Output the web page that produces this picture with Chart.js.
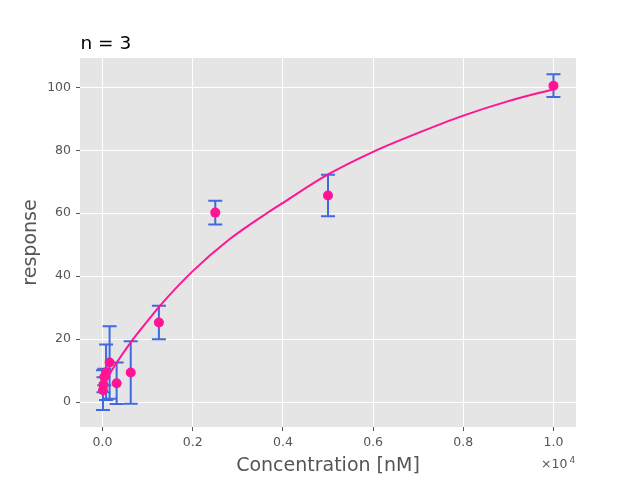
<!DOCTYPE html>
<html>
<head>
<meta charset="utf-8">
<script src="https://cdn.jsdelivr.net/npm/chart.js@4"></script>
<style>
  body { margin: 0; background: #ffffff; }
  #wrap { width: 640px; height: 480px; }
</style>
</head>
<body>
<div id="wrap"><canvas id="myChart" width="640" height="480"></canvas></div>
<script>
// datos
const conc = [10000, 5000, 2500, 1250, 625, 312.5, 156.25, 78.125, 39.0625, 19.53125, 9.765625];
const resp = [100.5, 65.6, 60.2, 25.3, 9.4, 6.0, 12.6, 9.5, 8.0, 5.5, 3.8];
const err  = [3.6, 6.6, 3.8, 5.3, 9.9, 6.6, 11.5, 8.8, 2.6, 2.4, 6.3];

// curva ajustada (puntos leidos sobre la linea)
const fitX = [9.8, 312, 625, 1044, 1267, 2000, 2822, 3674, 4000, 5000, 6000, 7000, 8000, 9000, 10000];
const fitY = [5.5, 12.5, 19.0, 26.6, 30.5, 41.6, 51.8, 60.3, 63.3, 72.3, 79.5, 85.5, 91.0, 95.6, 99.4];

const xTicks = [0, 2000, 4000, 6000, 8000, 10000];
const xTickLabels = ['0.0', '0.2', '0.4', '0.6', '0.8', '1.0'];
const yTicks = [0, 20, 40, 60, 80, 100];

const fuente = 'DejaVu Sans';
const gris = '#555555';

const fondo = {
    id: 'fondo',
    beforeDraw(chart) {
        const a = chart.chartArea;
        const c = chart.ctx;
        c.save();
        c.fillStyle = '#E5E5E5';
        c.fillRect(a.left, a.top, a.right - a.left, a.bottom - a.top);
        c.restore();
    }
};

const barrasError = {
    id: 'barrasError',
    beforeDatasetsDraw(chart) {
        const c = chart.ctx;
        const xs = chart.scales.x, ys = chart.scales.y;
        c.save();
        c.strokeStyle = '#4169E1';
        c.lineWidth = 2;
        for (let i = 0; i < conc.length; i++) {
            const px = xs.getPixelForValue(conc[i]);
            const y1 = ys.getPixelForValue(resp[i] + err[i]);
            const y2 = ys.getPixelForValue(resp[i] - err[i]);
            c.beginPath();
            c.moveTo(px, y1); c.lineTo(px, y2);
            c.moveTo(px - 7, y1); c.lineTo(px + 7, y1);
            c.moveTo(px - 7, y2); c.lineTo(px + 7, y2);
            c.stroke();
        }
        c.restore();
    }
};

const textos = {
    id: 'textos',
    afterDraw(chart) {
        const c = chart.ctx;
        c.save();
        c.fillStyle = '#000000';
        c.font = '18.5px "' + fuente + '"';
        c.textBaseline = 'alphabetic';
        c.textAlign = 'left';
        c.fillText('n = 3', 80.5, 48.5);
        c.fillStyle = gris;
        c.font = '12.5px "' + fuente + '"';
        c.fillText('\u00d710', 541, 468);
        c.font = '9px "' + fuente + '"';
        c.fillText('4', 569.5, 462.5);
        c.restore();
    }
};

const ctx = document.getElementById('myChart');

new Chart(ctx, {
    type: 'scatter',
    data: {
        datasets: [{
            type: 'line',
            label: 'ajuste',
            data: fitX.map((x, i) => ({ x: x, y: fitY[i] })),
            borderColor: '#FF1493',
            borderWidth: 2,
            pointRadius: 0,
            cubicInterpolationMode: 'monotone',
            fill: false,
            order: 2
        }, {
            label: 'datos',
            data: conc.map((x, i) => ({ x: x, y: resp[i] })),
            backgroundColor: '#FF1493',
            borderColor: '#FF1493',
            borderWidth: 0,
            pointRadius: 5,
            order: 1
        }]
    },
    options: {
        responsive: false,
        animation: false,
        layout: { padding: { top: 58, right: 64, left: 0, bottom: 0 } },
        plugins: {
            legend: { display: false },
            tooltip: { enabled: false }
        },
        scales: {
            x: {
                type: 'linear',
                min: -500,
                max: 10500,
                afterBuildTicks: s => { s.ticks = xTicks.map(v => ({ value: v })); },
                afterFit: s => { s.height = 53; },
                border: { display: false },
                grid: { color: '#ffffff', lineWidth: 1, tickColor: gris, tickLength: 4 },
                ticks: {
                    color: gris,
                    font: { family: fuente, size: 12.5 },
                    padding: 4,
                    maxRotation: 0,
                    callback: v => xTickLabels[xTicks.indexOf(v)]
                },
                title: {
                    display: true,
                    text: 'Concentration [nM]',
                    color: gris,
                    font: { family: fuente, size: 19 },
                    padding: { top: 0, bottom: 3 }
                }
            },
            y: {
                min: -7.9,
                max: 109.3,
                afterBuildTicks: s => { s.ticks = yTicks.map(v => ({ value: v })); },
                afterFit: s => { s.width = 80; },
                border: { display: false },
                grid: { color: '#ffffff', lineWidth: 1, tickColor: gris, tickLength: 4 },
                ticks: {
                    color: gris,
                    font: { family: fuente, size: 12.5 },
                    padding: 5
                },
                title: {
                    display: true,
                    text: 'response',
                    color: gris,
                    font: { family: fuente, size: 19 },
                    padding: { top: 20, bottom: 0 }
                }
            }
        }
    },
    plugins: [fondo, barrasError, textos]
});
</script>
</body>
</html>
